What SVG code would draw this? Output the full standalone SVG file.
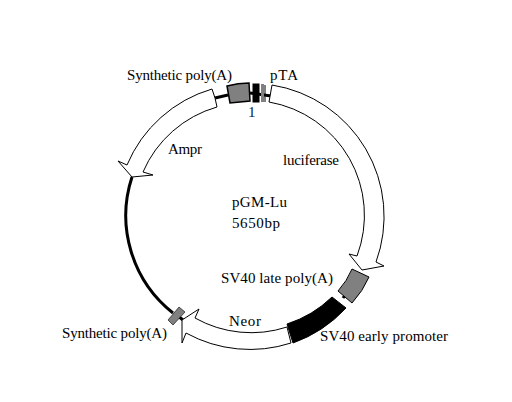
<svg xmlns="http://www.w3.org/2000/svg" width="512" height="402" viewBox="0 0 512 402">
<style>
text{font-family:"Liberation Serif","Times New Roman",serif;font-size:15px;fill:#000}
.arrow{fill:#fff;stroke:#000;stroke-width:1}
.gray{fill:#808080;stroke:#000;stroke-width:1.5}
.blk{fill:#000;stroke:#000;stroke-width:1}
.bb{fill:none;stroke:#000;stroke-width:3}
</style>
<rect width="512" height="402" fill="#fff"/>
<g id="connectors">
<path class="bb" d="M132 177A124 124 0 0 0 173 313"/>
<path class="bb" d="M178 316L183 320"/>
<path class="bb" d="M215 98L228 95"/>
<path class="bb" d="M250 93L271 96"/>
<path class="bb" d="M343 298L348 291"/>
</g>
<g id="luciferase"><path class="arrow" d="M272 85A133 133 0 0 1 376 262L384 266L362 270L349 254L357 256A115 115 0 0 0 269 102Z"/><text x="283" y="165" textLength="56">luciferase</text></g>
<g id="ampr"><path class="arrow" d="M212 89L215 98L217 107A115 115 0 0 0 143 172L153 175L132 177L118 161L127 165A133 133 0 0 1 212 89Z"/><text x="168" y="154" textLength="34">Ampr</text></g>
<g id="neor"><path class="arrow" d="M287 327L291 343A133 133 0 0 1 186 333L182 343L182 320L199 309L195 318A115 115 0 0 0 287 327Z"/><text x="229" y="326" textLength="32">Neor</text></g>
<g id="poly-top"><path class="gray" d="M227 86Q238 83 249 83L250 101Q240 102 230 103Z"/><text x="127" y="80" textLength="105">Synthetic poly(A)</text></g>
<g id="pta"><rect class="blk" x="253" y="84" width="6" height="18"/><rect x="261" y="84" width="3" height="18" fill="#808080"/><path d="M265 85L265 102" stroke="#000"/><text x="270" y="80" textLength="28">pTA</text></g>
<g id="origin"><text x="248" y="117" style="fill:#0a1a50">1</text></g>
<g id="poly-late"><path class="gray" style="stroke-width:1" d="M352 269L369 277Q363 291 352 303L338 291Q347 281 352 269Z"/><text x="221" y="283" textLength="112">SV40 late poly(A)</text></g>
<g id="early"><path class="blk" d="M332 297L346 308A133 133 0 0 1 293 343L287 324A115 115 0 0 0 332 297Z"/><text x="320" y="341" textLength="128">SV40 early promoter</text></g>
<g id="poly-bottom"><path class="gray" style="stroke-width:.6" d="M179 307L185 312L173 325L168 320Z"/><text x="62" y="338" textLength="105">Synthetic poly(A)</text></g>
<g id="plasmid"><text x="232" y="207" textLength="55">pGM-Lu</text><text x="232" y="228" textLength="48">5650bp</text></g>
</svg>
